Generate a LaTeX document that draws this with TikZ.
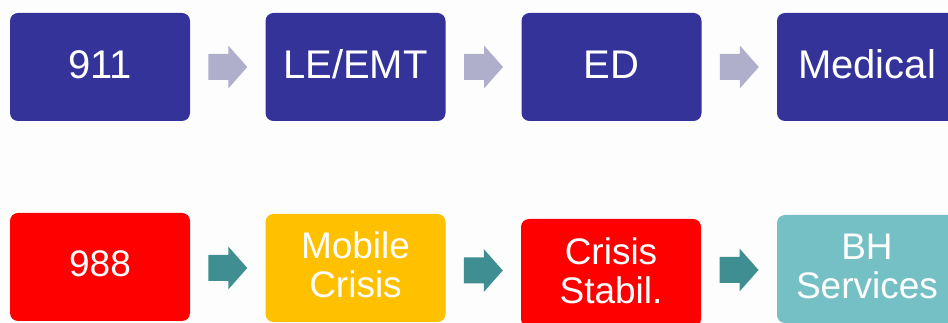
\documentclass[tikz,border=0pt]{standalone}
\usepackage{fontspec}
\setmainfont{Liberation Sans}
\usetikzlibrary{calc}
\definecolor{navy}{HTML}{333399}
\definecolor{lightarrow}{HTML}{AFAFCB}
\definecolor{tealarrow}{HTML}{3E8E92}
\definecolor{redbox}{HTML}{FF0000}
\definecolor{amber}{HTML}{FFC000}
\definecolor{lteal}{HTML}{75C0C5}
\definecolor{bg}{HTML}{FDFDFD}
\tikzset{
  box/.style={rectangle, rounded corners=8pt, minimum width=180pt, minimum height=108pt,
    inner sep=0pt},
  toptext/.style={inner sep=0pt, text=white, align=center, font=\fontsize{40}{42}\selectfont},
  bottext/.style={inner sep=0pt, text=white, align=center, font=\fontsize{37}{39}\selectfont},
}
\newcommand{\blockarrow}[2]{%
  \fill[#1] (#2) ++(-19.5pt,-13pt) -- ++(20pt,0) -- ++(0,-8.5pt) -- ++(19pt,21.5pt)
    -- ++(-19pt,21.5pt) -- ++(0,-8.5pt) -- ++(-20pt,0) -- cycle;}
\begin{document}
\begin{tikzpicture}[x=1pt,y=1pt]
\useasboundingbox (0,0) rectangle (948,323);
\clip (0,0) rectangle (948,323);
\fill[bg] (0,0) rectangle (948,323);
% top row
\node[box, fill=navy] (t1) at (100,256) {};
\node[box, fill=navy] (t2) at (355.5,256) {};
\node[box, fill=navy] (t3) at (611.5,256) {};
\node[box, fill=navy] (t4) at (867,256) {};
\node[toptext] (t1l) at ([yshift=2.5pt]t1.center) {911};
\node[toptext] (t2l) at ([yshift=2.5pt]t2.center) {LE/EMT};
\node[toptext] (t3l) at ([yshift=2.5pt]t3.center) {ED};
\node[toptext] (t4l) at ([yshift=2.5pt]t4.center) {Medical};
\coordinate (ta1) at ($(t1.east)!0.5!(t2.west)$);
\coordinate (ta2) at ($(t2.east)!0.5!(t3.west)$);
\coordinate (ta3) at ($(t3.east)!0.5!(t4.west)$);
\blockarrow{lightarrow}{ta1}
\blockarrow{lightarrow}{ta2}
\blockarrow{lightarrow}{ta3}
% bottom row
\node[box, fill=redbox] (b1) at (100,56) {};
\node[box, fill=amber] (b2) at (355.5,55) {};
\node[box, fill=redbox] (b3) at (611,50) {};
\node[box, fill=lteal] (b4) at (867,54) {};
\node[bottext] (b1l) at ([yshift=3pt]b1.center) {988};
\node[bottext] (b2l) at ([yshift=3pt]b2.center) {Mobile\\Crisis};
\node[bottext] (b3l) at ([yshift=2pt]b3.center) {Crisis\\Stabil.};
\node[bottext] (b4l) at ([yshift=3pt]b4.center) {BH\\Services};
\coordinate (ba1) at ($(b1.east)!0.5!(b2.west)+(0,-0.5)$);
\coordinate (ba2) at ($(b2.east)!0.5!(b3.west)+(0,0)$);
\coordinate (ba3) at ($(b3.east)!0.5!(b4.west)+(0,1)$);
\blockarrow{tealarrow}{ba1}
\blockarrow{tealarrow}{ba2}
\blockarrow{tealarrow}{ba3}
\end{tikzpicture}
\end{document}
